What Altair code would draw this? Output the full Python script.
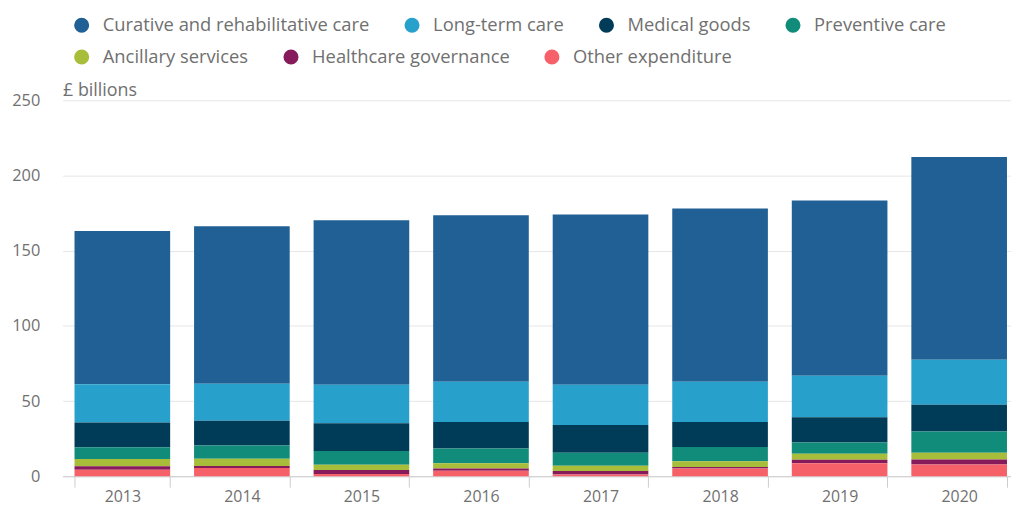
import altair as alt
import pandas as pd

years = ["2013", "2014", "2015", "2016", "2017", "2018", "2019", "2020"]
categories = [
    "Curative and rehabilitative care",
    "Long-term care",
    "Medical goods",
    "Preventive care",
    "Ancillary services",
    "Healthcare governance",
    "Other expenditure",
]
curative = [102.0, 104.7, 109.4, 110.7, 113.2, 115.2, 116.5, 134.9]
long_term = [25.3, 24.6, 25.5, 26.8, 26.8, 26.8, 27.7, 29.9]
medical = [16.5, 16.5, 18.5, 17.6, 18.5, 16.7, 16.7, 17.8]
preventive = [7.9, 8.8, 9.2, 9.7, 8.6, 9.5, 7.5, 14.1]
ancillary = [4.8, 4.8, 3.5, 3.5, 3.5, 3.7, 4.0, 4.4]
governance = [2.2, 1.3, 2.6, 1.5, 2.4, 1.1, 2.4, 3.3]
other = [4.4, 5.5, 1.5, 3.7, 1.1, 5.1, 8.6, 7.9]
colors = ["#206095", "#27a0cc", "#003c57", "#118c7b", "#a8bd3a", "#871a5b", "#f66068"]

series = [curative, long_term, medical, preventive, ancillary, governance, other]
rows = []
for ci, (cat, vals) in enumerate(zip(categories, series)):
    for y, v in zip(years, vals):
        rows.append({"year": y, "category": cat, "value": v,
                     "stack": len(categories) - ci, "row": 1 if ci < 4 else 2})
df = pd.DataFrame(rows)

FONT = "Open Sans"
GREY = "#707070"


def legend(y):
    return alt.Legend(
        title=None,
        orient="none",
        legendX=10,
        legendY=y,
        direction="horizontal",
        symbolType="circle",
        symbolSize=230,
        symbolStrokeWidth=0,
        symbolOpacity=1,
        labelFont=FONT,
        labelFontSize=18.5,
        labelColor=GREY,
        labelOffset=12,
        columnPadding=33,
        labelLimit=400,
    )


base = alt.Chart(df).transform_stack(
    stack="value", groupby=["year"], as_=["v0", "v1"],
    sort=[alt.SortField("stack", order="ascending")],
)

x = alt.X(
    "year:N",
    title=None,
    scale=alt.Scale(paddingInner=0.2, paddingOuter=0.1, range=[0, 964]),
    axis=alt.Axis(
        tickBand="extent",
        tickSize=11,
        tickColor="#cccccc",
        domainColor="#cccccc",
        labelAngle=0,
        labelFontSize=16,
        labelColor=GREY,
        labelFont=FONT,
        labelPadding=1,
        grid=False,
    ),
)
y = alt.Y(
    "v0:Q",
    scale=alt.Scale(domain=[0, 250]),
    axis=alt.Axis(
        values=[0, 50, 100, 150, 200, 250],
        title="£ billions",
        titleAngle=0,
        titleAlign="left",
        titleBaseline="alphabetic",
        titleX=0,
        titleY=-5,
        titleFont=FONT,
        titleFontSize=18,
        titleFontWeight="normal",
        titleColor=GREY,
        labelFontSize=16.5,
        labelColor=GREY,
        labelFont=FONT,
        labelPadding=23,
        ticks=False,
        domain=False,
        gridColor="#e6e6e6",
    ),
)

top = base.transform_filter("datum.row == 1").mark_bar().encode(
    x=x, y=y, y2="v1:Q",
    color=alt.Color("category:N",
                    scale=alt.Scale(domain=categories[:4], range=colors[:4]),
                    legend=legend(-85)),
)
bottom = base.transform_filter("datum.row == 2").mark_bar().encode(
    x=x, y=y, y2="v1:Q",
    fill=alt.Fill("category:N",
                  scale=alt.Scale(domain=categories[4:], range=colors[4:]),
                  legend=legend(-53)),
)

chart = alt.layer(top, bottom).properties(
    width=956,
    height=379,
    autosize=alt.AutoSizeParams(type="none"),
    padding={"left": 55, "top": 91, "right": 0, "bottom": 30},
).configure_view(stroke=None)

chart.save("out.html", embed_options={"renderer": "svg", "actions": False})
